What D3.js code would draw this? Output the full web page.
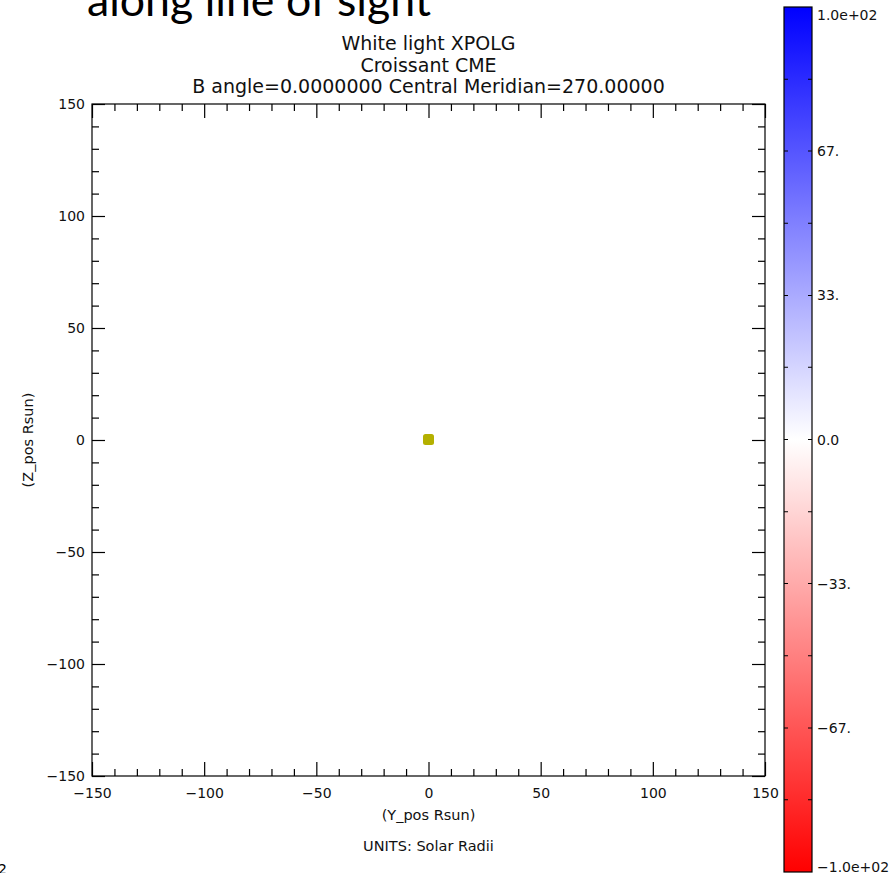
<!DOCTYPE html>
<html>
<head>
<meta charset="utf-8">
<script src="https://cdn.jsdelivr.net/npm/d3@7"></script>
<style>
  body { margin: 0; background: #fff; }
  svg { display: block; }
</style>
</head>
<body>
<svg id="container" width="894" height="873"></svg>
<script>
let width = 894,
    height = 873;

// data
let points = [{ y: 0, z: 0 }]
let majorTicks = [-150, -100, -50, 0, 50, 100, 150]
let minorTicks = [-140, -130, -120, -110, -90, -80, -70, -60, -40, -30, -20, -10,
                  10, 20, 30, 40, 60, 70, 80, 90, 110, 120, 130, 140]
let cbLabelValues = [100, 66.7, 33.3, 0, -33.3, -66.7, -100]
let cbLabels = ["1.0e+02", "67.", "33.", "0.0", "\u221233.", "\u221267.", "\u22121.0e+02"]
let cbMinorValues = [83.3, 50, 16.7, -16.7, -50, -83.3]
let titleLines = ["White light XPOLG", "Croissant CME", "B angle=0.0000000 Central Meridian=270.00000"]

let svg = d3.select("#container")
let tickFont = "'DejaVu Sans', sans-serif"

let pLeft = 92, pRight = 765, pTop = 104, pBottom = 776

let xScale = d3.scaleLinear().domain([-150, 150]).range([pLeft, pRight])
let yScale = d3.scaleLinear().domain([-150, 150]).range([pBottom, pTop])

let fmt = d => d < 0 ? "\u2212" + Math.abs(d) : "" + d

// slide heading, cut off at the top
let heading = svg.append("text")
    .attr("x", 87)
    .attr("y", 16)
    .attr("font-family", "Lato, 'Open Sans', sans-serif")
    .attr("font-size", 48)
    .attr("fill", "#000")
    .text("along line of sight")
let hw = heading.node().getComputedTextLength()
heading.attr("font-size", 48 * 344 / hw)

svg.append("text")
    .attr("x", -2)
    .attr("y", 874)
    .attr("font-family", tickFont)
    .attr("font-size", 14)
    .text("2")

// titles
svg.selectAll(".title")
    .data(titleLines)
    .enter()
    .append("text")
    .attr("class", "title")
    .attr("x", (pLeft + pRight) / 2)
    .attr("y", (d, i) => 50 + i * 21.5)
    .attr("text-anchor", "middle")
    .attr("font-family", tickFont)
    .attr("font-size", 19)
    .attr("fill", "#111")
    .text(d => d)

function styleAxis(g) {
    g.select(".domain").remove()
    g.selectAll("line").attr("stroke", "#000").attr("stroke-width", 1.2)
    g.selectAll("text")
        .attr("font-family", tickFont)
        .attr("font-size", 14)
        .attr("fill", "#111")
}

// bottom
svg.append("g").attr("transform", "translate(0," + pBottom + ")")
    .call(d3.axisBottom(xScale).tickValues(majorTicks).tickSize(-14).tickPadding(12).tickFormat(fmt))
    .call(styleAxis)
svg.append("g").attr("transform", "translate(0," + pBottom + ")")
    .call(d3.axisBottom(xScale).tickValues(minorTicks).tickSize(-7).tickFormat(""))
    .call(styleAxis)
// top
svg.append("g").attr("transform", "translate(0," + pTop + ")")
    .call(d3.axisTop(xScale).tickValues(majorTicks).tickSize(-14).tickFormat(""))
    .call(styleAxis)
svg.append("g").attr("transform", "translate(0," + pTop + ")")
    .call(d3.axisTop(xScale).tickValues(minorTicks).tickSize(-7).tickFormat(""))
    .call(styleAxis)
// left
svg.append("g").attr("transform", "translate(" + pLeft + ",0)")
    .call(d3.axisLeft(yScale).tickValues(majorTicks).tickSize(-13).tickPadding(7).tickFormat(fmt))
    .call(styleAxis)
svg.append("g").attr("transform", "translate(" + pLeft + ",0)")
    .call(d3.axisLeft(yScale).tickValues(minorTicks).tickSize(-7).tickFormat(""))
    .call(styleAxis)
// right
svg.append("g").attr("transform", "translate(" + pRight + ",0)")
    .call(d3.axisRight(yScale).tickValues(majorTicks).tickSize(-13).tickFormat(""))
    .call(styleAxis)
svg.append("g").attr("transform", "translate(" + pRight + ",0)")
    .call(d3.axisRight(yScale).tickValues(minorTicks).tickSize(-7).tickFormat(""))
    .call(styleAxis)

svg.append("rect")
    .attr("x", pLeft)
    .attr("y", pTop)
    .attr("width", pRight - pLeft)
    .attr("height", pBottom - pTop)
    .attr("fill", "none")
    .attr("stroke", "#000")
    .attr("stroke-width", 1.2)

// axis titles
svg.append("text")
    .attr("x", (pLeft + pRight) / 2)
    .attr("y", 820)
    .attr("text-anchor", "middle")
    .attr("font-family", tickFont)
    .attr("font-size", 14.5)
    .attr("fill", "#111")
    .text("(Y_pos Rsun)")

svg.append("text")
    .attr("x", (pLeft + pRight) / 2)
    .attr("y", 851)
    .attr("text-anchor", "middle")
    .attr("font-family", tickFont)
    .attr("font-size", 14.5)
    .attr("fill", "#111")
    .text("UNITS: Solar Radii")

svg.append("text")
    .attr("transform", "translate(33," + yScale(0) + ") rotate(-90)")
    .attr("text-anchor", "middle")
    .attr("font-family", tickFont)
    .attr("font-size", 14.5)
    .attr("fill", "#111")
    .text("(Z_pos Rsun)")

// the CME point
svg.append("g")
    .selectAll("rect")
    .data(points)
    .enter()
    .append("rect")
    .attr("x", d => xScale(d.y) - 5.5)
    .attr("y", d => yScale(d.z) - 6)
    .attr("width", 11)
    .attr("height", 11)
    .attr("rx", 2.5)
    .attr("fill", "#b4b000")

// colour bar
let cbLeft = 784, cbRight = 812, cbTop = 7, cbBottom = 872
let cScale = d3.scaleLinear()
    .domain([-100, 0, 100])
    .range(["#ff0000", "#ffffff", "#0000ff"])
let cbY = d3.scaleLinear().domain([-100, 100]).range([cbBottom, cbTop])

let grad = svg.append("defs").append("linearGradient")
    .attr("id", "cbgrad")
    .attr("x1", 0).attr("y1", 1)
    .attr("x2", 0).attr("y2", 0)
grad.selectAll("stop")
    .data([-100, -50, 0, 50, 100])
    .enter()
    .append("stop")
    .attr("offset", d => (d + 100) / 200)
    .attr("stop-color", d => cScale(d))

svg.append("rect")
    .attr("x", cbLeft)
    .attr("y", cbTop)
    .attr("width", cbRight - cbLeft)
    .attr("height", cbBottom - cbTop)
    .attr("fill", "url(#cbgrad)")
    .attr("stroke", "#000")
    .attr("stroke-width", 1.2)

let cbTicks = cbLabelValues.concat(cbMinorValues).filter(d => Math.abs(d) < 100)
svg.append("g")
    .selectAll("path")
    .data(cbTicks)
    .enter()
    .append("path")
    .attr("d", d => "M" + cbLeft + "," + cbY(d) + "h4M" + cbRight + "," + cbY(d) + "h-4")
    .attr("stroke", "#000")
    .attr("stroke-width", 1.2)

svg.append("g")
    .selectAll("text")
    .data(cbLabelValues)
    .enter()
    .append("text")
    .attr("x", 817)
    .attr("y", d => d == 100 ? 20 : d == -100 ? 872 : cbY(d) + 5)
    .attr("font-family", tickFont)
    .attr("font-size", 14)
    .attr("fill", "#111")
    .text((d, i) => cbLabels[i])
</script>
</body>
</html>
